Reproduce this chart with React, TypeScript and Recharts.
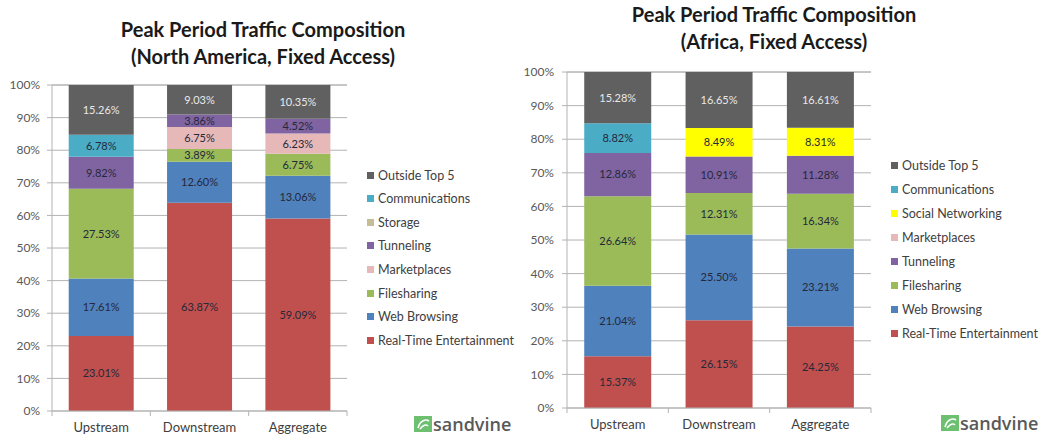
import React from 'react';
import { BarChart, Bar, XAxis, YAxis, CartesianGrid, LabelList } from 'recharts';

// categories on the x axis
const categories = ['Upstream', 'Downstream', 'Aggregate'];
const yTicks = [0, 10, 20, 30, 40, 50, 60, 70, 80, 90, 100];

// North America, fixed access (percent of peak traffic)
const naRealTime = [23.01, 63.87, 59.09];
const naWeb = [17.61, 12.6, 13.06];
const naFile = [27.53, 3.89, 6.75];
const naMarket = [0, 6.75, 6.23];
const naTunnel = [9.82, 3.86, 4.52];
const naStorage = [0, 0, 0];
const naComms = [6.78, 0, 0];
const naOutside = [15.26, 9.03, 10.35];

// Africa, fixed access
const afRealTime = [15.37, 26.15, 24.25];
const afWeb = [21.04, 25.5, 23.21];
const afFile = [26.64, 12.31, 16.34];
const afTunnel = [12.86, 10.91, 11.28];
const afMarket = [0, 0, 0];
const afSocial = [0, 8.49, 8.31];
const afComms = [8.82, 0, 0];
const afOutside = [15.28, 16.65, 16.61];

const COLORS: Record<string, string> = {
    'Real-Time Entertainment': '#c0504d',
    'Web Browsing': '#4f81bd',
    'Filesharing': '#9bbb59',
    'Marketplaces': '#e6b9b8',
    'Tunneling': '#8064a2',
    'Storage': '#c4bd97',
    'Social Networking': '#ffff00',
    'Communications': '#4bacc6',
    'Outside Top 5': '#606060',
};

// stacking order, bottom first
const naSeries: [string, number[]][] = [
    ['Real-Time Entertainment', naRealTime],
    ['Web Browsing', naWeb],
    ['Filesharing', naFile],
    ['Marketplaces', naMarket],
    ['Tunneling', naTunnel],
    ['Storage', naStorage],
    ['Communications', naComms],
    ['Outside Top 5', naOutside],
];

const afSeries: [string, number[]][] = [
    ['Real-Time Entertainment', afRealTime],
    ['Web Browsing', afWeb],
    ['Filesharing', afFile],
    ['Tunneling', afTunnel],
    ['Marketplaces', afMarket],
    ['Social Networking', afSocial],
    ['Communications', afComms],
    ['Outside Top 5', afOutside],
];

const FONT = 'Lato, "Open Sans", sans-serif';
const GRID = '#b3b3b3';

function buildRows(series: [string, number[]][]) {
    return categories.map((cat, i) => {
        const row: Record<string, any> = { name: cat };
        series.forEach(([key, vals]) => {
            row[key] = vals[i];
        });
        return row;
    });
}

const CategoryTick = ({ x, y, payload, index, band, count }: any) => {
    const left = x - band / 2;
    const right = x + band / 2;
    return (
        <g>
            <line x1={left} x2={left} y1={y} y2={y + 5} stroke={GRID} />
            {index === count - 1 && <line x1={right} x2={right} y1={y} y2={y + 5} stroke={GRID} />}
            <text x={x} y={y + 21} textAnchor="middle" fontSize={13} fill="#404040" fontFamily={FONT}>
                {payload.value}
            </text>
        </g>
    );
};

interface PanelProps {
    series: [string, number[]][];
    width: number;
    height: number;
    top: number;
    bottom: number;
    yWidth: number;
    right: number;
    tickMargin: number;
}

function Panel({ series, width, height, top, bottom, yWidth, right, tickMargin }: PanelProps) {
    const rows = buildRows(series);
    const band = (width - yWidth - right) / categories.length;
    return (
        <BarChart
            width={width}
            height={height}
            data={rows}
            margin={{ top, right, left: 0, bottom: 0 }}
            barCategoryGap="17%"
        >
            <CartesianGrid vertical={false} stroke={GRID} />
            <XAxis
                dataKey="name"
                height={height - bottom}
                stroke={GRID}
                tickLine={false}
                tickSize={0}
                tickMargin={0}
                interval={0}
                tick={<CategoryTick band={band} count={categories.length} />}
            />
            <YAxis
                type="number"
                domain={[0, 100]}
                ticks={yTicks}
                width={yWidth}
                stroke={GRID}
                tickSize={5}
                tickMargin={tickMargin}
                tickFormatter={(v: number) => `${v}%`}
                tick={{ fill: '#595959', fontSize: 12, fontFamily: FONT }}
                interval={0}
            />
            {series.map(([key]) => (
                <Bar key={key} dataKey={key} stackId="a" fill={COLORS[key]} isAnimationActive={false}>
                    <LabelList
                        dataKey={key}
                        position="center"
                        formatter={(v: any) => (v ? `${Number(v).toFixed(2)}%` : '')}
                        fill={key === 'Outside Top 5' ? '#e8e8e8' : '#26283a'}
                        fontSize={11}
                        fontFamily={FONT}
                    />
                </Bar>
            ))}
        </BarChart>
    );
}

function LegendList({ series, left, top, step }: { series: [string, number[]][]; left: number; top: number; step: number }) {
    const items = [...series].reverse();
    return (
        <div style={{ position: 'absolute', left, top, fontFamily: FONT, fontSize: 12.5, color: '#404040' }}>
            {items.map(([key], i) => (
                <div key={key} style={{ position: 'absolute', top: i * step, left: 0, whiteSpace: 'nowrap', display: 'flex', alignItems: 'center', height: 16 }}>
                    <div style={{ width: 7, height: 7, background: COLORS[key], marginRight: 4 }} />
                    <span>{key}</span>
                </div>
            ))}
        </div>
    );
}

function Logo({ left, top }: { left: number; top: number }) {
    return (
        <div style={{ position: 'absolute', left, top, display: 'flex', alignItems: 'center', height: 18 }}>
            <svg width={18} height={16}>
                <rect x={0} y={0} width={18} height={16} fill="#6cc070" />
                <path d="M4 12 C 6 4, 12 3, 15 5 M6 13 C 9 9, 12 8, 14 10" stroke="#fff" strokeWidth={1.6} fill="none" />
            </svg>
            <span style={{ fontFamily: '"Open Sans", sans-serif', fontWeight: 600, fontSize: 18, color: '#595959', marginLeft: 1, lineHeight: '18px' }}>
                sandvine
            </span>
        </div>
    );
}

function Title({ center, top, lines }: { center: number; top: number; lines: string[] }) {
    return (
        <div
            style={{
                position: 'absolute',
                left: center - 200,
                width: 400,
                top,
                textAlign: 'center',
                fontFamily: FONT,
                fontWeight: 700,
                fontSize: 20,
                lineHeight: '27px',
                color: '#1a1a1a',
            }}
        >
            {lines.map((l) => (
                <div key={l}>{l}</div>
            ))}
        </div>
    );
}

export default function App() {
    return (
        <div style={{ position: 'absolute', left: 0, top: 0, width: 1045, height: 437, background: '#fff', overflow: 'hidden' }}>
            <Title center={263} top={16} lines={['Peak Period Traffic Composition', '(North America, Fixed Access)']} />
            <Title center={774} top={1} lines={['Peak Period Traffic Composition', '(Africa, Fixed Access)']} />

            <div style={{ position: 'absolute', left: 0, top: 0 }}>
                <Panel series={naSeries} width={350} height={437} top={85} bottom={411} yWidth={52} right={3} tickMargin={7} />
            </div>
            <div style={{ position: 'absolute', left: 515, top: 0 }}>
                <Panel series={afSeries} width={360} height={437} top={72} bottom={408} yWidth={52} right={4} tickMargin={8} />
            </div>

            <LegendList series={naSeries} left={367} top={167} step={23.6} />
            <LegendList series={afSeries} left={891} top={157} step={24} />

            <Logo left={414} top={415} />
            <Logo left={941} top={414} />
        </div>
    );
}
